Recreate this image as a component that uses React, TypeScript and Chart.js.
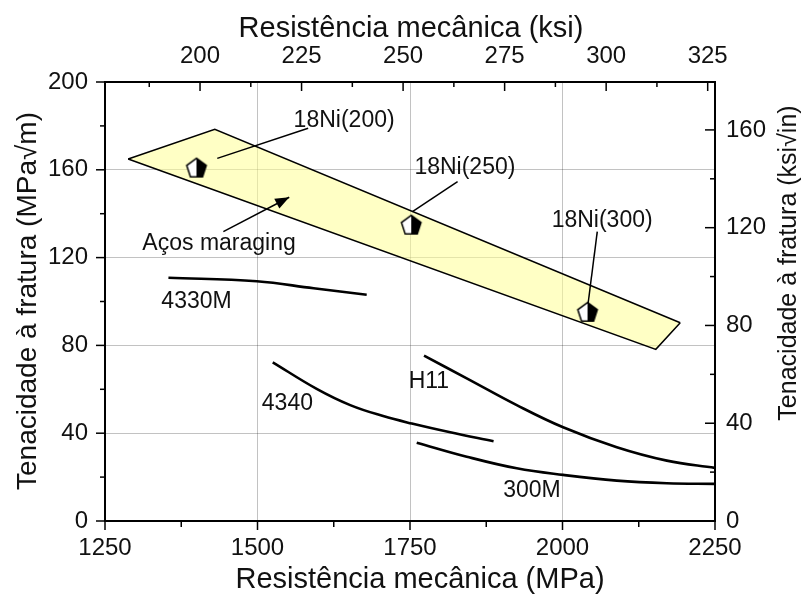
import React, { useEffect, useRef } from 'react';
import { Chart, registerables } from 'chart.js';

Chart.register(...registerables);

// ---------- axis ticks ----------
const xTicksMPa = [1250, 1500, 1750, 2000, 2250];
const xMinorMPa = [1375, 1625, 1875, 2125];
const xTicksKsi = [200, 225, 250, 275, 300, 325];
const xMinorKsi = [187.5, 212.5, 237.5, 262.5, 287.5, 312.5];
const yTicksMPa = [0, 40, 80, 120, 160, 200];
const yMinorMPa = [20, 60, 100, 140, 180];
const yTicksKsi = [0, 40, 80, 120, 160];
const yMinorKsi = [20, 60, 100, 140];

// ---------- maraging band ----------
const bandTopX = [1288, 1430, 2193];
const bandTopY = [164.9, 178.4, 90.3];
const bandBottomX = [1288, 2153, 2193];
const bandBottomY = [164.9, 78.2, 90.3];

// ---------- steel curves ----------
const c4330MX = [1354, 1499, 1592, 1679];
const c4330MY = [110.8, 109.2, 106.0, 103.1];
const c4340X = [1525, 1597, 1652, 1706, 1753, 1816, 1887];
const c4340Y = [72.3, 60.2, 52.8, 47.8, 44.4, 40.4, 36.3];
const cH11X = [1773, 1843, 1925, 2001, 2089, 2171, 2250];
const cH11Y = [75.3, 65.0, 52.8, 42.7, 33.6, 27.5, 24.2];
const c300MX = [1761, 1843, 1925, 2001, 2089, 2171, 2250];
const c300MY = [35.7, 29.3, 24.0, 21.0, 18.4, 17.2, 16.9];

// ---------- maraging grades (markers) ----------
const markerX = [1400, 1752, 2041];
const markerY = [161, 135, 95.3];

// ---------- leader lines ----------
const leader200X = [1434, 1583];
const leader200Y = [165.2, 178.9];
const leader250X = [1754, 1828];
const leader250Y = [140.9, 154.6];
const leader300X = [2042, 2057];
const leader300Y = [99.2, 131.8];
const arrowX = [1444, 1552];
const arrowY = [131.8, 147.5];

// ---------- text labels (baseline positions in data units) ----------
const labelTexts = ['18Ni(200)', '18Ni(250)', '18Ni(300)', 'Aços maraging', '4330M', '4340', 'H11', '300M'];
const labelX = [1642, 1840, 2065, 1437, 1400, 1549, 1781, 1950];
const labelY = [179.4, 158.0, 133.8, 123.5, 96.9, 50.6, 60.7, 11.1];

const FONT = '"Liberation Sans", Arial, sans-serif';

const pts = (xs: number[], ys: number[]) => xs.map((x, i) => ({ x, y: ys[i] }));

function makePentagon(): HTMLCanvasElement {
  const size = 26;
  const c = document.createElement('canvas');
  c.width = size;
  c.height = size;
  const ctx = c.getContext('2d')!;
  const cx = size / 2;
  const cy = size / 2 + 1;
  const r = 10.3;
  ctx.beginPath();
  for (let k = 0; k < 5; k++) {
    const a = ((-90 + k * 72) * Math.PI) / 180;
    const px = cx + r * Math.cos(a);
    const py = cy + r * Math.sin(a);
    if (k === 0) ctx.moveTo(px, py);
    else ctx.lineTo(px, py);
  }
  ctx.closePath();
  ctx.save();
  ctx.clip();
  ctx.fillStyle = '#ffffff';
  ctx.fillRect(0, 0, size, size);
  ctx.fillStyle = '#000000';
  ctx.fillRect(cx, 0, size, size);
  ctx.restore();
  ctx.lineWidth = 1.5;
  ctx.strokeStyle = '#000';
  ctx.stroke();
  return c;
}

const decorPlugin = {
  id: 'decor',
  afterDatasetsDraw(chart: any) {
    const { ctx, scales } = chart;
    const sx = scales.x;
    const sy = scales.y;
    // arrow head
    const x0 = sx.getPixelForValue(arrowX[0]);
    const y0 = sy.getPixelForValue(arrowY[0]);
    const x1 = sx.getPixelForValue(arrowX[1]);
    const y1 = sy.getPixelForValue(arrowY[1]);
    const ang = Math.atan2(y1 - y0, x1 - x0);
    const L = 14;
    const W = 5.5;
    ctx.save();
    ctx.fillStyle = '#000';
    ctx.beginPath();
    ctx.moveTo(x1, y1);
    ctx.lineTo(x1 - L * Math.cos(ang) + W * Math.sin(ang), y1 - L * Math.sin(ang) - W * Math.cos(ang));
    ctx.lineTo(x1 - L * Math.cos(ang) - W * Math.sin(ang), y1 - L * Math.sin(ang) + W * Math.cos(ang));
    ctx.closePath();
    ctx.fill();
    // labels
    ctx.font = `23px ${FONT}`;
    ctx.textAlign = 'center';
    ctx.textBaseline = 'alphabetic';
    ctx.fillStyle = '#111';
    labelTexts.forEach((t, i) => {
      ctx.fillText(t, sx.getPixelForValue(labelX[i]), sy.getPixelForValue(labelY[i]));
    });
    ctx.restore();
  },
  afterDraw(chart: any) {
    const { ctx, scales, chartArea } = chart;
    const { left, right, top, bottom } = chartArea;
    ctx.save();
    ctx.strokeStyle = '#000';
    ctx.lineWidth = 1.5;
    const line = (ax: number, ay: number, bx: number, by: number) => {
      ctx.beginPath();
      ctx.moveTo(ax, ay);
      ctx.lineTo(bx, by);
      ctx.stroke();
    };
    // bottom: outward
    xTicksMPa.forEach((v) => { const p = scales.x.getPixelForValue(v); line(p, bottom, p, bottom + 9); });
    xMinorMPa.forEach((v) => { const p = scales.x.getPixelForValue(v); line(p, bottom, p, bottom + 6); });
    // left: outward
    yTicksMPa.forEach((v) => { const p = scales.y.getPixelForValue(v); line(left, p, left - 9, p); });
    yMinorMPa.forEach((v) => { const p = scales.y.getPixelForValue(v); line(left, p, left - 5, p); });
    // top: inward
    xTicksKsi.forEach((v) => { const p = scales.x2.getPixelForValue(v); line(p, top, p, top + 9); });
    xMinorKsi.forEach((v) => { const p = scales.x2.getPixelForValue(v); line(p, top, p, top + 5); });
    // right: inward
    yTicksKsi.forEach((v) => { const p = scales.y2.getPixelForValue(v); line(right, p, right - 10, p); });
    yMinorKsi.forEach((v) => { const p = scales.y2.getPixelForValue(v); line(right, p, right - 5, p); });

    // axis titles
    ctx.fillStyle = '#111';
    ctx.textAlign = 'center';
    ctx.textBaseline = 'alphabetic';
    ctx.font = `29px ${FONT}`;
    ctx.fillText('Resistência mecânica (ksi)', 411, 37);
    ctx.fillText('Resistência mecânica (MPa)', 420, 588);
    ctx.save();
    ctx.font = `28px ${FONT}`;
    ctx.translate(36, 301);
    ctx.rotate(-Math.PI / 2);
    ctx.fillText('Tenacidade à fratura (MPa√m)', 0, 0);
    ctx.restore();
    ctx.save();
    ctx.font = `25px ${FONT}`;
    ctx.translate(796, 263);
    ctx.rotate(-Math.PI / 2);
    ctx.fillText('Tenacidade à fratura (ksi√in)', 0, 0);
    ctx.restore();
    ctx.restore();
  },
};

export default function App() {
  const canvasRef = useRef<HTMLCanvasElement | null>(null);

  useEffect(() => {
    if (!canvasRef.current) return;
    const pentagon = makePentagon();
    const gridColor = 'rgba(0,0,0,0.24)';
    const tickFont = { family: FONT, size: 24 };
    const curve = (label: string, xs: number[], ys: number[], order: number) => ({
      label,
      data: pts(xs, ys),
      showLine: true,
      borderColor: '#000',
      borderWidth: 2.6,
      pointRadius: 0,
      tension: 0.4,
      fill: false,
      order,
    });
    const leader = (label: string, xs: number[], ys: number[]) => ({
      label,
      data: pts(xs, ys),
      showLine: true,
      borderColor: '#000',
      borderWidth: 1.5,
      pointRadius: 0,
      fill: false,
      order: 2,
    });

    const chart = new Chart(canvasRef.current, {
      type: 'scatter',
      data: {
        datasets: [
          {
            label: 'band-top',
            data: pts(bandTopX, bandTopY),
            showLine: true,
            borderColor: '#000',
            borderWidth: 1.5,
            backgroundColor: 'rgba(255,255,150,0.55)',
            pointRadius: 0,
            fill: '+1',
            order: 10,
          } as any,
          {
            label: 'band-bottom',
            data: pts(bandBottomX, bandBottomY),
            showLine: true,
            borderColor: '#000',
            borderWidth: 1.5,
            pointRadius: 0,
            fill: false,
            order: 9,
          },
          curve('4330M', c4330MX, c4330MY, 3),
          curve('4340', c4340X, c4340Y, 3),
          curve('H11', cH11X, cH11Y, 3),
          curve('300M', c300MX, c300MY, 3),
          leader('l200', leader200X, leader200Y),
          leader('l250', leader250X, leader250Y),
          leader('l300', leader300X, leader300Y),
          leader('arrow', arrowX, arrowY),
          {
            label: 'grades',
            data: pts(markerX, markerY),
            showLine: false,
            pointStyle: pentagon as any,
            pointRadius: 11,
            order: 0,
          } as any,
        ],
      },
      options: {
        animation: false,
        responsive: false,
        devicePixelRatio: 1,
        layout: { padding: 0 },
        plugins: { legend: { display: false }, tooltip: { enabled: false } },
        scales: {
          x: {
            type: 'linear',
            position: 'bottom',
            min: 1250,
            max: 2250,
            afterBuildTicks: (s: any) => { s.ticks = xTicksMPa.map((v) => ({ value: v })); },
            afterFit: (s: any) => { s.height = 76; },
            grid: { color: gridColor, lineWidth: 1, drawTicks: false },
            border: { color: '#000', width: 2 },
            ticks: { padding: 13, font: tickFont, color: '#111', autoSkip: false, maxRotation: 0, callback: (v: any) => String(v) },
          },
          x2: {
            type: 'linear',
            position: 'top',
            min: 176.6,
            max: 326.8,
            afterBuildTicks: (s: any) => { s.ticks = xTicksKsi.map((v) => ({ value: v })); },
            afterFit: (s: any) => { s.height = 82; },
            grid: { display: false, drawTicks: false },
            border: { color: '#000', width: 2 },
            ticks: { padding: 11, font: tickFont, color: '#111', autoSkip: false, maxRotation: 0, callback: (v: any) => String(v) },
          },
          y: {
            type: 'linear',
            position: 'left',
            min: 0,
            max: 200,
            afterBuildTicks: (s: any) => { s.ticks = yTicksMPa.map((v) => ({ value: v })); },
            afterFit: (s: any) => { s.width = 105; },
            grid: { color: gridColor, lineWidth: 1, drawTicks: false },
            border: { color: '#000', width: 2 },
            ticks: { padding: 17, font: tickFont, color: '#111', autoSkip: false, callback: (v: any) => String(v) },
          },
          y2: {
            type: 'linear',
            position: 'right',
            min: 0,
            max: 179.6,
            afterBuildTicks: (s: any) => { s.ticks = yTicksKsi.map((v) => ({ value: v })); },
            afterFit: (s: any) => { s.width = 89; },
            grid: { display: false, drawTicks: false },
            border: { color: '#000', width: 2 },
            ticks: { padding: 11, font: tickFont, color: '#111', autoSkip: false, callback: (v: any) => String(v) },
          },
        },
      } as any,
      plugins: [decorPlugin],
    });
    return () => chart.destroy();
  }, []);

  return (
    <div style={{ position: 'absolute', left: 0, top: 0, width: 804, height: 597, background: '#fff' }}>
      <canvas ref={canvasRef} width={804} height={597} style={{ display: 'block' }} />
    </div>
  );
}
